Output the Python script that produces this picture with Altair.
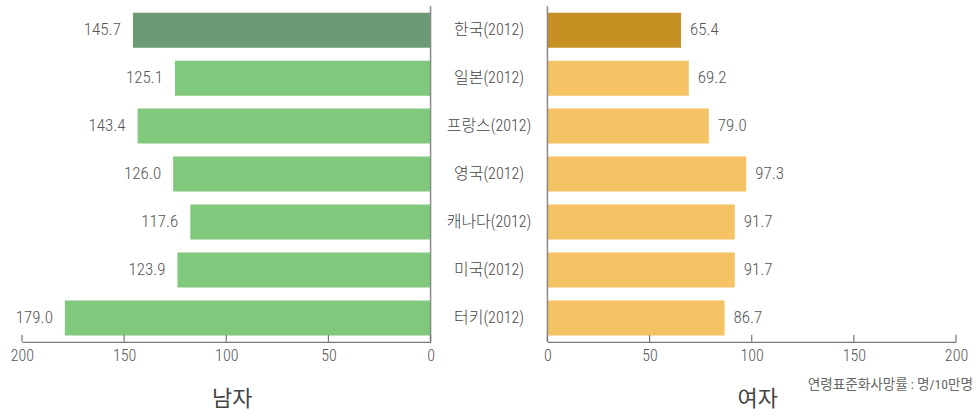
import altair as alt
import pandas as pd

countries = ["한국(2012)", "일본(2012)", "프랑스(2012)", "영국(2012)", "캐나다(2012)", "미국(2012)", "터키(2012)"]
male = [145.7, 125.1, 143.4, 126.0, 117.6, 123.9, 179.0]
female = [65.4, 69.2, 79.0, 97.3, 91.7, 91.7, 86.7]
tick_values = [0, 50, 100, 150, 200]
highlight = "한국(2012)"
note = "연령표준화사망률 : 명/10만명"

KFONT = "Noto Sans CJK KR"
NFONT = "Roboto Condensed, Noto Sans CJK KR"
W, H, MID = 409, 336, 109
NOVIEW = alt.ViewBackground(stroke="transparent", strokeWidth=0)

df = pd.DataFrame({"country": countries, "male": male, "female": female})
df["hl"] = df["country"] == highlight
ticks_df = pd.DataFrame({"t": tick_values})
note_df = pd.DataFrame({"note": [note]})

yscale = alt.Scale(domain=countries, paddingInner=0.27, paddingOuter=0.135)
Y = alt.Y("country:N", sort=countries, scale=yscale, axis=None)


def panel(field, title, reverse, c_hi, c_lo, align, dx):
    xs = alt.Scale(domain=[0, 200], reverse=reverse, nice=False, zero=True)
    ax = alt.Axis(
        values=tick_values, grid=False, ticks=False, domainColor="#777", domainWidth=1.2,
        labelColor="#555", labelFontSize=16, labelFont=NFONT, labelFontWeight=300,
        labelPadding=6, labelFlush=False,
        title=title, titleFont=KFONT, titleFontSize=22, titleColor="#444",
        titleFontWeight="normal", titleX=210, titleY=57, titleBaseline="middle")
    base = alt.Chart(df)
    bars = base.mark_bar().encode(
        x=alt.X(f"{field}:Q", scale=xs, axis=ax, title=title),
        y=Y,
        color=alt.condition("datum.hl", alt.value(c_hi), alt.value(c_lo)),
    )
    labels = base.mark_text(align=align, dx=dx, baseline="middle", fontSize=17, fontWeight=300,
                            font=NFONT, color="#555").encode(
        x=alt.X(f"{field}:Q", scale=xs, axis=ax, title=title),
        y=Y,
        text=alt.Text(f"{field}:Q", format=".1f"),
    )
    zero = alt.Chart(ticks_df).transform_filter("datum.t == 0").mark_rule(
        color="#888", strokeWidth=1.5).encode(x=alt.X("t:Q", scale=xs, axis=ax, title=title))
    tk = alt.Chart(ticks_df).mark_rule(color="#777", strokeWidth=1.2).encode(
        x=alt.X("t:Q", scale=xs, axis=ax, title=title), y=alt.value(H - 7), y2=alt.value(H))
    return [bars, labels, zero, tk]


left = alt.layer(*panel("male", "남자", True, "#6b9a74", "#80c87b", "right", -12)).properties(
    width=W, height=H, view=NOVIEW)

right_layers = panel("female", "여자", False, "#c69022", "#f5c264", "left", 9)
note_layer = alt.Chart(note_df).mark_text(align="right", baseline="middle", fontSize=13.6,
                                          font=NFONT, color="#666").encode(
    x=alt.value(426), y=alt.value(H + 43), text="note:N")
right = alt.layer(*right_layers, note_layer).properties(width=W, height=H, view=NOVIEW)

middle = alt.Chart(df).mark_text(fontSize=16, font=NFONT, fontWeight=300, color="#444",
                                 baseline="middle").encode(
    y=Y, x=alt.value(MID / 2), text="country:N").properties(width=MID, height=H, view=NOVIEW)

chart = alt.hconcat(left, middle, right, spacing=0).properties(
    padding={"left": 10, "right": 5, "top": 5, "bottom": 4}
).configure_view(stroke="transparent", strokeWidth=0).configure(font=KFONT)

chart.save("out.html", embed_options={"renderer": "svg", "actions": False})
